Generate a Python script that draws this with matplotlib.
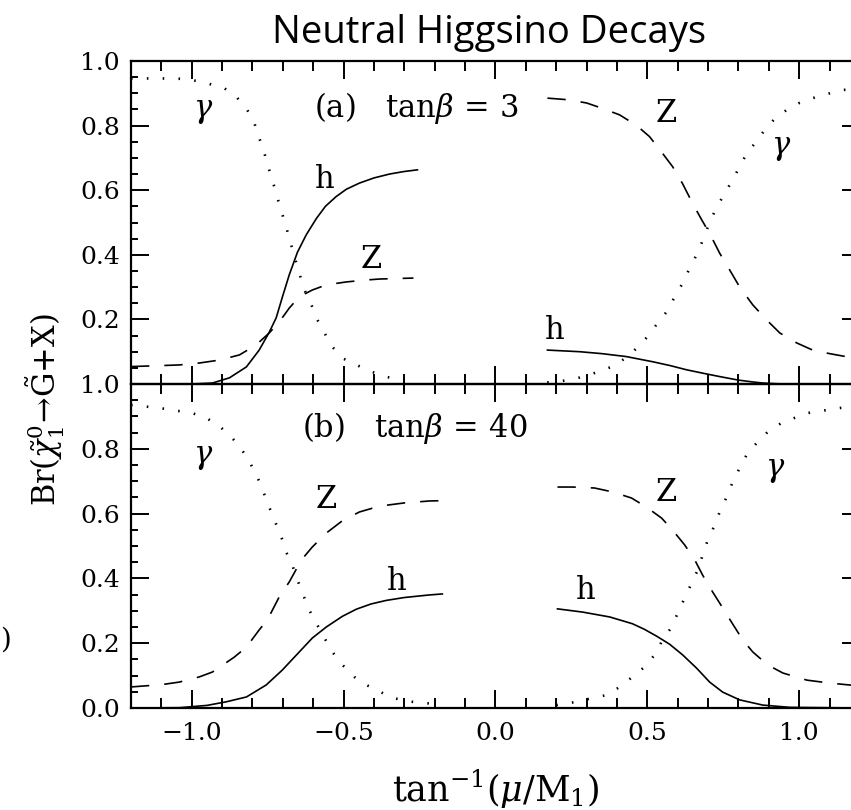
import matplotlib
matplotlib.use("Agg")
import matplotlib.pyplot as plt
from matplotlib.ticker import MultipleLocator, FuncFormatter

plt.rcParams["font.family"] = ["DejaVu Serif"]
plt.rcParams["mathtext.fontset"] = "dejavuserif"

# ---- (a) tan(beta) = 3 ----
gam_a_l_x = [-1.2, -1.1, -1.041, -0.998, -0.942, -0.893, -0.853, -0.817, -0.794, -0.778,
             -0.761, -0.745, -0.728, -0.712, -0.695, -0.685, -0.662, -0.646, -0.629, -0.606,
             -0.586, -0.563, -0.537, -0.504, -0.458, -0.405, -0.36, -0.306, -0.26]
gam_a_l_y = [0.946, 0.946, 0.945, 0.941, 0.929, 0.916, 0.889, 0.848, 0.808, 0.762,
             0.715, 0.663, 0.61, 0.557, 0.505, 0.472, 0.395, 0.343, 0.291, 0.245,
             0.198, 0.158, 0.115, 0.08, 0.059, 0.037, 0.022, 0.013, 0.01]
z_a_l_x = [-1.2, -1.1, -1.041, -0.975, -0.909, -0.843, -0.788, -0.745, -0.712, -0.679,
           -0.646, -0.603, -0.557, -0.491, -0.425, -0.382, -0.27]
z_a_l_y = [0.054, 0.057, 0.059, 0.065, 0.074, 0.09, 0.121, 0.158, 0.192, 0.235,
           0.27, 0.291, 0.307, 0.316, 0.322, 0.325, 0.328]
h_a_l_x = [-1.2, -1.0, -0.932, -0.876, -0.82, -0.778, -0.745, -0.722, -0.702, -0.679,
           -0.652, -0.623, -0.59, -0.56, -0.525, -0.491, -0.448, -0.4, -0.349, -0.3, -0.257]
h_a_l_y = [0.0, 0.0, 0.003, 0.019, 0.053, 0.105, 0.16, 0.205, 0.268, 0.338,
           0.408, 0.462, 0.512, 0.55, 0.58, 0.603, 0.622, 0.638, 0.65, 0.658, 0.663]

z_a_r_x = [0.171, 0.24, 0.30, 0.353, 0.409, 0.465, 0.507, 0.55, 0.583, 0.616, 0.649, 0.679,
           0.705, 0.738, 0.771, 0.804, 0.847, 0.893, 0.936, 0.992, 1.044, 1.1, 1.17, 1.2]
z_a_r_y = [0.885, 0.88, 0.87, 0.853, 0.833, 0.80, 0.766, 0.714, 0.673, 0.62, 0.559, 0.508,
           0.466, 0.405, 0.353, 0.30, 0.245, 0.198, 0.158, 0.127, 0.105, 0.094, 0.082, 0.078]
gam_a_r_x = [0.17, 0.2, 0.27, 0.326, 0.382, 0.428, 0.465, 0.5, 0.534, 0.563, 0.59, 0.616,
             0.639, 0.662, 0.683, 0.699, 0.721, 0.748, 0.777, 0.804, 0.827, 0.854, 0.886,
             0.92, 0.958, 1.0, 1.057, 1.14, 1.2]
gam_a_r_y = [0.005, 0.006, 0.018, 0.034, 0.053, 0.08, 0.111, 0.146, 0.189, 0.223, 0.27, 0.312,
             0.358, 0.40, 0.446, 0.486, 0.533, 0.58, 0.626, 0.673, 0.714, 0.745, 0.786,
             0.822, 0.848, 0.87, 0.889, 0.91, 0.915]
h_a_r_x = [0.171, 0.277, 0.35, 0.43, 0.517, 0.575, 0.629, 0.69, 0.738, 0.8, 0.85, 0.88,
           0.92, 0.95, 1.2]
h_a_r_y = [0.105, 0.10, 0.094, 0.085, 0.069, 0.057, 0.044, 0.032, 0.023, 0.012, 0.006, 0.003,
           0.001, 0.0, 0.0]

# ---- (b) tan(beta) = 40 ----
gam_b_l_x = [-1.2, -1.107, -0.998, -0.952, -0.909, -0.87, -0.837, -0.81, -0.784, -0.764,
             -0.745, -0.725, -0.705, -0.689, -0.669, -0.652, -0.633, -0.613, -0.59, -0.563,
             -0.537, -0.504, -0.465, -0.425, -0.339, -0.273, -0.175]
gam_b_l_y = [0.935, 0.926, 0.91, 0.895, 0.87, 0.837, 0.80, 0.76, 0.713, 0.667,
             0.62, 0.574, 0.528, 0.481, 0.441, 0.395, 0.349, 0.302, 0.262, 0.216,
             0.173, 0.133, 0.096, 0.071, 0.031, 0.019, 0.01]
z_b_l_x = [-1.2, -1.1, -1.041, -0.975, -0.932, -0.86, -0.82, -0.778, -0.751, -0.712,
           -0.679, -0.639, -0.603, -0.557, -0.504, -0.448, -0.382, -0.3, -0.217, -0.17]
z_b_l_y = [0.065, 0.072, 0.08, 0.096, 0.111, 0.157, 0.188, 0.241, 0.272, 0.343,
           0.389, 0.457, 0.497, 0.54, 0.578, 0.605, 0.623, 0.633, 0.639, 0.64]
h_b_l_x = [-1.2, -1.04, -0.95, -0.887, -0.82, -0.755, -0.702, -0.646, -0.603, -0.557,
           -0.504, -0.458, -0.41, -0.36, -0.3, -0.217, -0.175]
h_b_l_y = [0.0, 0.001, 0.008, 0.019, 0.034, 0.071, 0.117, 0.173, 0.216, 0.25,
           0.283, 0.305, 0.321, 0.332, 0.341, 0.349, 0.352]

z_b_r_x = [0.204, 0.254, 0.326, 0.385, 0.448, 0.497, 0.547, 0.583, 0.623, 0.656, 0.682,
           0.715, 0.748, 0.777, 0.814, 0.847, 0.896, 0.946, 1.025, 1.1, 1.166, 1.2]
z_b_r_y = [0.682, 0.682, 0.679, 0.667, 0.648, 0.62, 0.586, 0.549, 0.503, 0.457, 0.41,
           0.358, 0.309, 0.265, 0.21, 0.173, 0.133, 0.108, 0.086, 0.077, 0.071, 0.069]
h_b_r_x = [0.204, 0.287, 0.376, 0.451, 0.49, 0.53, 0.573, 0.616, 0.662, 0.705, 0.748, 0.804,
           0.88, 0.969, 1.2]
h_b_r_y = [0.306, 0.296, 0.281, 0.26, 0.243, 0.222, 0.197, 0.164, 0.123, 0.08, 0.049, 0.025,
           0.009, 0.002, 0.0]
gam_b_r_x = [0.2, 0.267, 0.32, 0.366, 0.409, 0.451, 0.491, 0.524, 0.55, 0.58, 0.6, 0.623,
             0.646, 0.666, 0.682, 0.699, 0.722, 0.738, 0.761, 0.781, 0.804, 0.83, 0.863,
             0.896, 0.942, 0.992, 1.025, 1.134, 1.2]
gam_b_r_y = [0.009, 0.019, 0.031, 0.04, 0.065, 0.096, 0.127, 0.164, 0.21, 0.25, 0.293, 0.34,
             0.386, 0.426, 0.472, 0.519, 0.565, 0.605, 0.651, 0.698, 0.741, 0.787, 0.821,
             0.852, 0.88, 0.898, 0.91, 0.926, 0.93]

x_ticks = [-1.0, -0.5, 0.0, 0.5, 1.0]
y_ticks = [0.0, 0.2, 0.4, 0.6, 0.8, 1.0]

SOLID = dict(color="black", lw=1.2, ls="-")
DASH = dict(color="black", lw=1.2, ls=(0, (11, 9)))
DOT = dict(color="black", lw=1.9, ls=(0, (0.6, 5.4)))

fig = plt.figure(figsize=(8.51, 8.10), dpi=100)
W = 851.0
H = 810.0
left, right = 131 / W, 860 / W
ax_a = fig.add_axes([left, 1 - 384 / H, right - left, (384 - 61) / H])
ax_b = fig.add_axes([left, 1 - 708 / H, right - left, (708 - 384) / H])


def fmt(v, pos=None):
    return f"{v:.1f}".replace("-", "\u2212")


def fmt_top(v, pos=None):
    return "" if abs(v) < 1e-9 else f"{v:.1f}"


for ax in (ax_a, ax_b):
    ax.set_xlim(-1.2, 1.2)
    ax.set_ylim(0.0, 1.0)
    ax.set_xticks(x_ticks)
    ax.set_yticks(y_ticks)
    ax.xaxis.set_minor_locator(MultipleLocator(0.1))
    ax.yaxis.set_minor_locator(MultipleLocator(0.05))
    ax.tick_params(which="both", direction="in", top=True, right=True, width=1.4, color="black")
    ax.tick_params(which="major", length=13)
    ax.tick_params(axis="x", which="minor", length=7)
    ax.tick_params(axis="y", which="minor", length=5)
    ax.tick_params(axis="y", labelsize=18, pad=8)
    ax.tick_params(axis="x", labelsize=18, pad=10)
    for s in ax.spines.values():
        s.set_linewidth(1.6)
    ax.set_facecolor("none")

ax_a.tick_params(axis="x", labelbottom=False)
ax_a.yaxis.set_major_formatter(FuncFormatter(fmt_top))
ax_b.yaxis.set_major_formatter(FuncFormatter(fmt))
ax_b.xaxis.set_major_formatter(FuncFormatter(fmt))

# panel (a)
ax_a.plot(gam_a_l_x, gam_a_l_y, **DOT)
ax_a.plot(z_a_l_x, z_a_l_y, **DASH)
ax_a.plot(h_a_l_x, h_a_l_y, **SOLID)
ax_a.plot(gam_a_r_x, gam_a_r_y, **DOT)
ax_a.plot(z_a_r_x, z_a_r_y, **DASH)
ax_a.plot(h_a_r_x, h_a_r_y, **SOLID)

# panel (b)
ax_b.plot(gam_b_l_x, gam_b_l_y, **DOT)
ax_b.plot(z_b_l_x, z_b_l_y, **DASH)
ax_b.plot(h_b_l_x, h_b_l_y, **SOLID)
ax_b.plot(gam_b_r_x, gam_b_r_y, **DOT)
ax_b.plot(z_b_r_x, z_b_r_y, **DASH)
ax_b.plot(h_b_r_x, h_b_r_y, **SOLID)

LBL = dict(fontsize=22, ha="center", va="center")
ax_a.text(-0.596, 0.854, r"(a)   tan$\beta\,=\,3$", fontsize=22, ha="left", va="center")
ax_a.text(-0.962, 0.848, r"$\gamma$", **LBL)
ax_a.text(-0.563, 0.632, "h", **LBL)
ax_a.text(-0.409, 0.384, "Z", **LBL)
ax_a.text(0.563, 0.839, "Z", **LBL)
ax_a.text(0.942, 0.731, r"$\gamma$", **LBL)
ax_a.text(0.194, 0.167, "h", **LBL)

ax_b.text(-0.636, 0.864, r"(b)   tan$\beta\,=\,40$", fontsize=22, ha="left", va="center")
ax_b.text(-0.962, 0.775, r"$\gamma$", **LBL)
ax_b.text(-0.557, 0.642, "Z", **LBL)
ax_b.text(-0.326, 0.389, "h", **LBL)
ax_b.text(0.563, 0.664, "Z", **LBL)
ax_b.text(0.919, 0.735, r"$\gamma$", **LBL)
ax_b.text(0.297, 0.364, "h", **LBL)

fig.text(489 / W, 1 - 43 / H, "Neutral Higgsino Decays", family="Open Sans",
         fontsize=27.5, ha="center", va="baseline")
fig.text(495.5 / W, 1 - 802 / H, r"tan$^{-1}$($\mu$/M$_1$)", fontsize=25,
         ha="center", va="baseline")
fig.text(45.5 / W, 1 - 410 / H,
         r"Br($\tilde{\chi}^{0}_{1}\!\rightarrow\!\tilde{\rm G}$+X)",
         fontsize=22, rotation=90, ha="center", va="center")
fig.text(0.5 / W, 1 - 640 / H, ")", fontsize=20, ha="left", va="center")

fig.savefig("out.png", dpi=100, facecolor="white")
